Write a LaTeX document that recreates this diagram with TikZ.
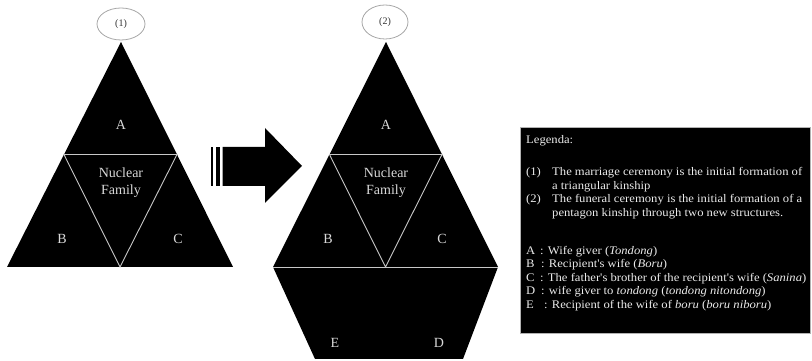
\documentclass[tikz,border=0pt]{standalone}
\usepackage{fontspec}
\setmainfont{Liberation Serif}
\newfontfamily\legfont{Liberation Serif}[FakeStretch=1.09]
\usetikzlibrary{calc,shapes.geometric}
\begin{document}
\begin{tikzpicture}[x=1pt,y=1pt,
  shapefill/.style={fill=black},
  splitline/.style={draw=black!22, line width=0.9pt},
  tag/.style={text=black!15, font=\fontsize{14}{17}\selectfont, inner sep=0pt},
  bubble/.style={draw=black!35, line width=0.8pt, ellipse, minimum width=48pt, minimum height=32pt, inner sep=0pt, font=\fontsize{10}{11}\selectfont, text=black!80},
  legtext/.style={text=black!8, font=\legfont\fontsize{11.6}{13.5}\selectfont, inner sep=0pt, anchor=base west}
]
\useasboundingbox (0,0) rectangle (812,361);

% ---------- stage (1): triangular kinship ----------
\coordinate (T1) at (121,319);
\coordinate (BL1) at (7,94);
\coordinate (BR1) at (233,94);
\coordinate (ML1) at ($(T1)!0.5!(BL1)$);
\coordinate (MR1) at ($(T1)!0.5!(BR1)$);
\coordinate (MB1) at ($(BL1)!0.5!(BR1)$);
\fill[shapefill] (T1) -- (BL1) -- (BR1) -- cycle;
\draw[splitline] (ML1) -- (MR1) -- (MB1) -- cycle;
\node[bubble] (E1) at (121,337) {(1)};
\node[tag] (A1) at (121,236) {A};
\node[tag] (B1) at (62,122) {B};
\node[tag] (C1) at (178,122) {C};
\node[tag, align=center] (N1) at (121,178.5) {Nuclear\\Family};

% ---------- block arrow ----------
\coordinate (S1a) at (210.5,214);
\coordinate (S1b) at (213,175);
\coordinate (S2a) at (215.5,214);
\coordinate (S2b) at (220,175);
\fill (S1a) rectangle (S1b);
\fill (S2a) rectangle (S2b);
\coordinate (AR0) at (222.5,214);
\coordinate (AR1) at (265,214);
\coordinate (AR2) at (265,233);
\coordinate (AR3) at (302,195);
\coordinate (AR4) at (265,158);
\coordinate (AR5) at (265,175);
\coordinate (AR6) at (222.5,175);
\fill (AR0) -- (AR1) -- (AR2) -- (AR3) -- (AR4) -- (AR5) -- (AR6) -- cycle;

% ---------- stage (2): pentagon kinship ----------
\coordinate (T2) at (386,319);
\coordinate (BL2) at (273,94);
\coordinate (BR2) at (498,94);
\coordinate (HL2) at (315,2);
\coordinate (HR2) at (463,2);
\coordinate (ML2) at ($(T2)!0.5!(BL2)$);
\coordinate (MR2) at ($(T2)!0.5!(BR2)$);
\coordinate (MB2) at ($(BL2)!0.5!(BR2)$);
\fill[shapefill] (T2) -- (BL2) -- (HL2) -- (HR2) -- (BR2) -- cycle;
\draw[splitline] (ML2) -- (MR2) -- (MB2) -- cycle;
\draw[splitline] (BL2) -- (BR2);
\node[bubble, minimum width=46pt, minimum height=34pt] (E2) at (385,339) {(2)};
\node[tag] (A2) at (386,236) {A};
\node[tag] (B2) at (328,122) {B};
\node[tag] (C2) at (442,122) {C};
\node[tag, align=center] (N2) at (386,178.5) {Nuclear\\Family};
\node[tag] (E2l) at (335,18) {E};
\node[tag] (D2l) at (439,18) {D};

% ---------- legend ----------
\fill[black, draw=black!30, line width=0.6pt] (520,234) rectangle (810,28);
\node[legtext] (LG) at (526,217) {Legenda:};
\node[legtext] (L1) at (526,185) {(1)};
\node[legtext] (P1a) at (552,185) {\makebox[250pt][s]{The marriage ceremony is the initial formation of}};
\node[legtext] (P1b) at (552,171.5) {a triangular kinship};
\node[legtext] (L2) at (526,158) {(2)};
\node[legtext] (P2a) at (552,158) {\makebox[250pt][s]{The funeral ceremony is the initial formation of a}};
\node[legtext] (P2b) at (552,144.5) {pentagon kinship through two new structures.};
\node[legtext] (KA) at (526,106.5) {A};
\node[legtext] (KAt) at (540,106.5) {: Wife giver (\textit{Tondong})};
\node[legtext] (KB) at (526,93) {B};
\node[legtext] (KBt) at (541,93) {: Recipient's wife (\textit{Boru})};
\node[legtext] (KC) at (526,79.5) {C};
\node[legtext] (KCt) at (540,79.5) {: The father's brother of the recipient's wife (\textit{Sanina})};
\node[legtext] (KD) at (526,66) {D};
\node[legtext] (KDt) at (541,66) {: wife giver to \textit{tondong} (\textit{tondong nitondong})};
\node[legtext] (KE) at (526,52.5) {E};
\node[legtext] (KEt) at (544,52.5) {: Recipient of the wife of \textit{boru} (\textit{boru niboru})};
\end{tikzpicture}
\end{document}
